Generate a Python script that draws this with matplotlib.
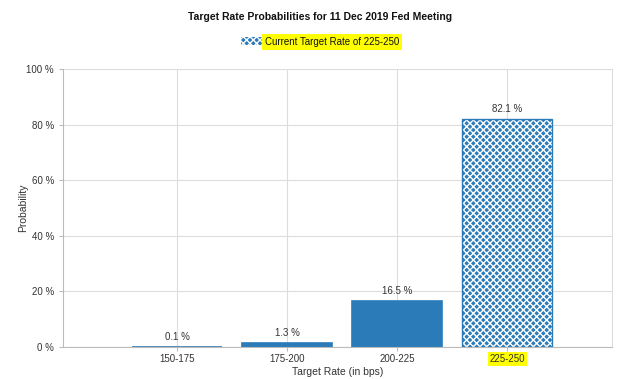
import matplotlib.pyplot as plt
from matplotlib.patches import Patch
import numpy as np

# data
categories = ['150-175', '175-200', '200-225', '225-250']
probs = [0.1, 1.3, 16.5, 82.1]
current = '225-250'
yticks = [0, 20, 40, 60, 80, 100]

plt.rcParams['font.family'] = ['Liberation Sans', 'DejaVu Sans']
plt.rcParams['hatch.linewidth'] = 1.0

fig = plt.figure(figsize=(6.4, 3.79), dpi=100)
ax = fig.add_axes([0.0984, 0.0844, 0.8576, 0.7336])

blue = '#2b7bb9'
x = np.arange(len(categories))
for i, (c, p) in enumerate(zip(categories, probs)):
    if c == current:
        ax.bar(i, p, width=0.82, color=blue, edgecolor='white', hatch='xxxxx', linewidth=0, zorder=2)
        ax.bar(i, p, width=0.82, fill=False, edgecolor=blue, linewidth=1, zorder=3)
    else:
        # thin edge so tiny values still show a sliver, like the original
        ax.bar(i, p, width=0.82, color=blue, edgecolor=blue, linewidth=1.2, zorder=2)
    ax.text(i, p + 1.8, f'{p} %', ha='center', va='bottom', fontsize=7, color='#333333')

ax.set_xlim(-1.04, 3.95)
ax.set_ylim(0, 100)
ax.set_xticks(x)
ax.set_xticklabels(categories)
ax.set_yticks(yticks)
ax.set_yticklabels([f'{v} %' for v in yticks])
ax.tick_params(axis='both', labelsize=7, colors='#bbbbbb', labelcolor='#333333', length=3)
ax.tick_params(axis='x', pad=2)
ax.grid(True, color='#dcdcdc', linewidth=0.8, zorder=0)
ax.set_axisbelow(True)
ax.spines['top'].set_visible(False)
ax.spines['right'].set_color('#dcdcdc')
ax.spines['left'].set_color('#bbbbbb')
ax.spines['bottom'].set_color('#bbbbbb')

for lbl in ax.get_xticklabels():
    if lbl.get_text() == current:
        lbl.set_bbox(dict(facecolor='yellow', edgecolor='none', pad=1.5))

ax.set_xlabel('Target Rate (in bps)', fontsize=7.5, color='#333333')
ax.set_ylabel('Probability', fontsize=7.5, color='#333333')
ax.xaxis.set_label_coords(0.5, -0.072)
ax.yaxis.set_label_coords(-0.064, 0.5)

fig.suptitle('Target Rate Probabilities for 11 Dec 2019 Fed Meeting', y=0.968,
             fontsize=7.5, fontweight='bold', color='#111111')

handle = Patch(facecolor=blue, edgecolor='white', hatch='xxxxx', linewidth=0)
leg = fig.legend([handle], ['Current Target Rate of 225-250'], loc='center',
                 bbox_to_anchor=(0.5, 0.89), frameon=False, fontsize=7,
                 handlelength=2.2, handleheight=0.9, handletextpad=0.3)
for t in leg.get_texts():
    t.set_bbox(dict(facecolor='yellow', edgecolor='none', pad=2))
    t.set_color('#111111')

fig.savefig('out.png', dpi=100)
